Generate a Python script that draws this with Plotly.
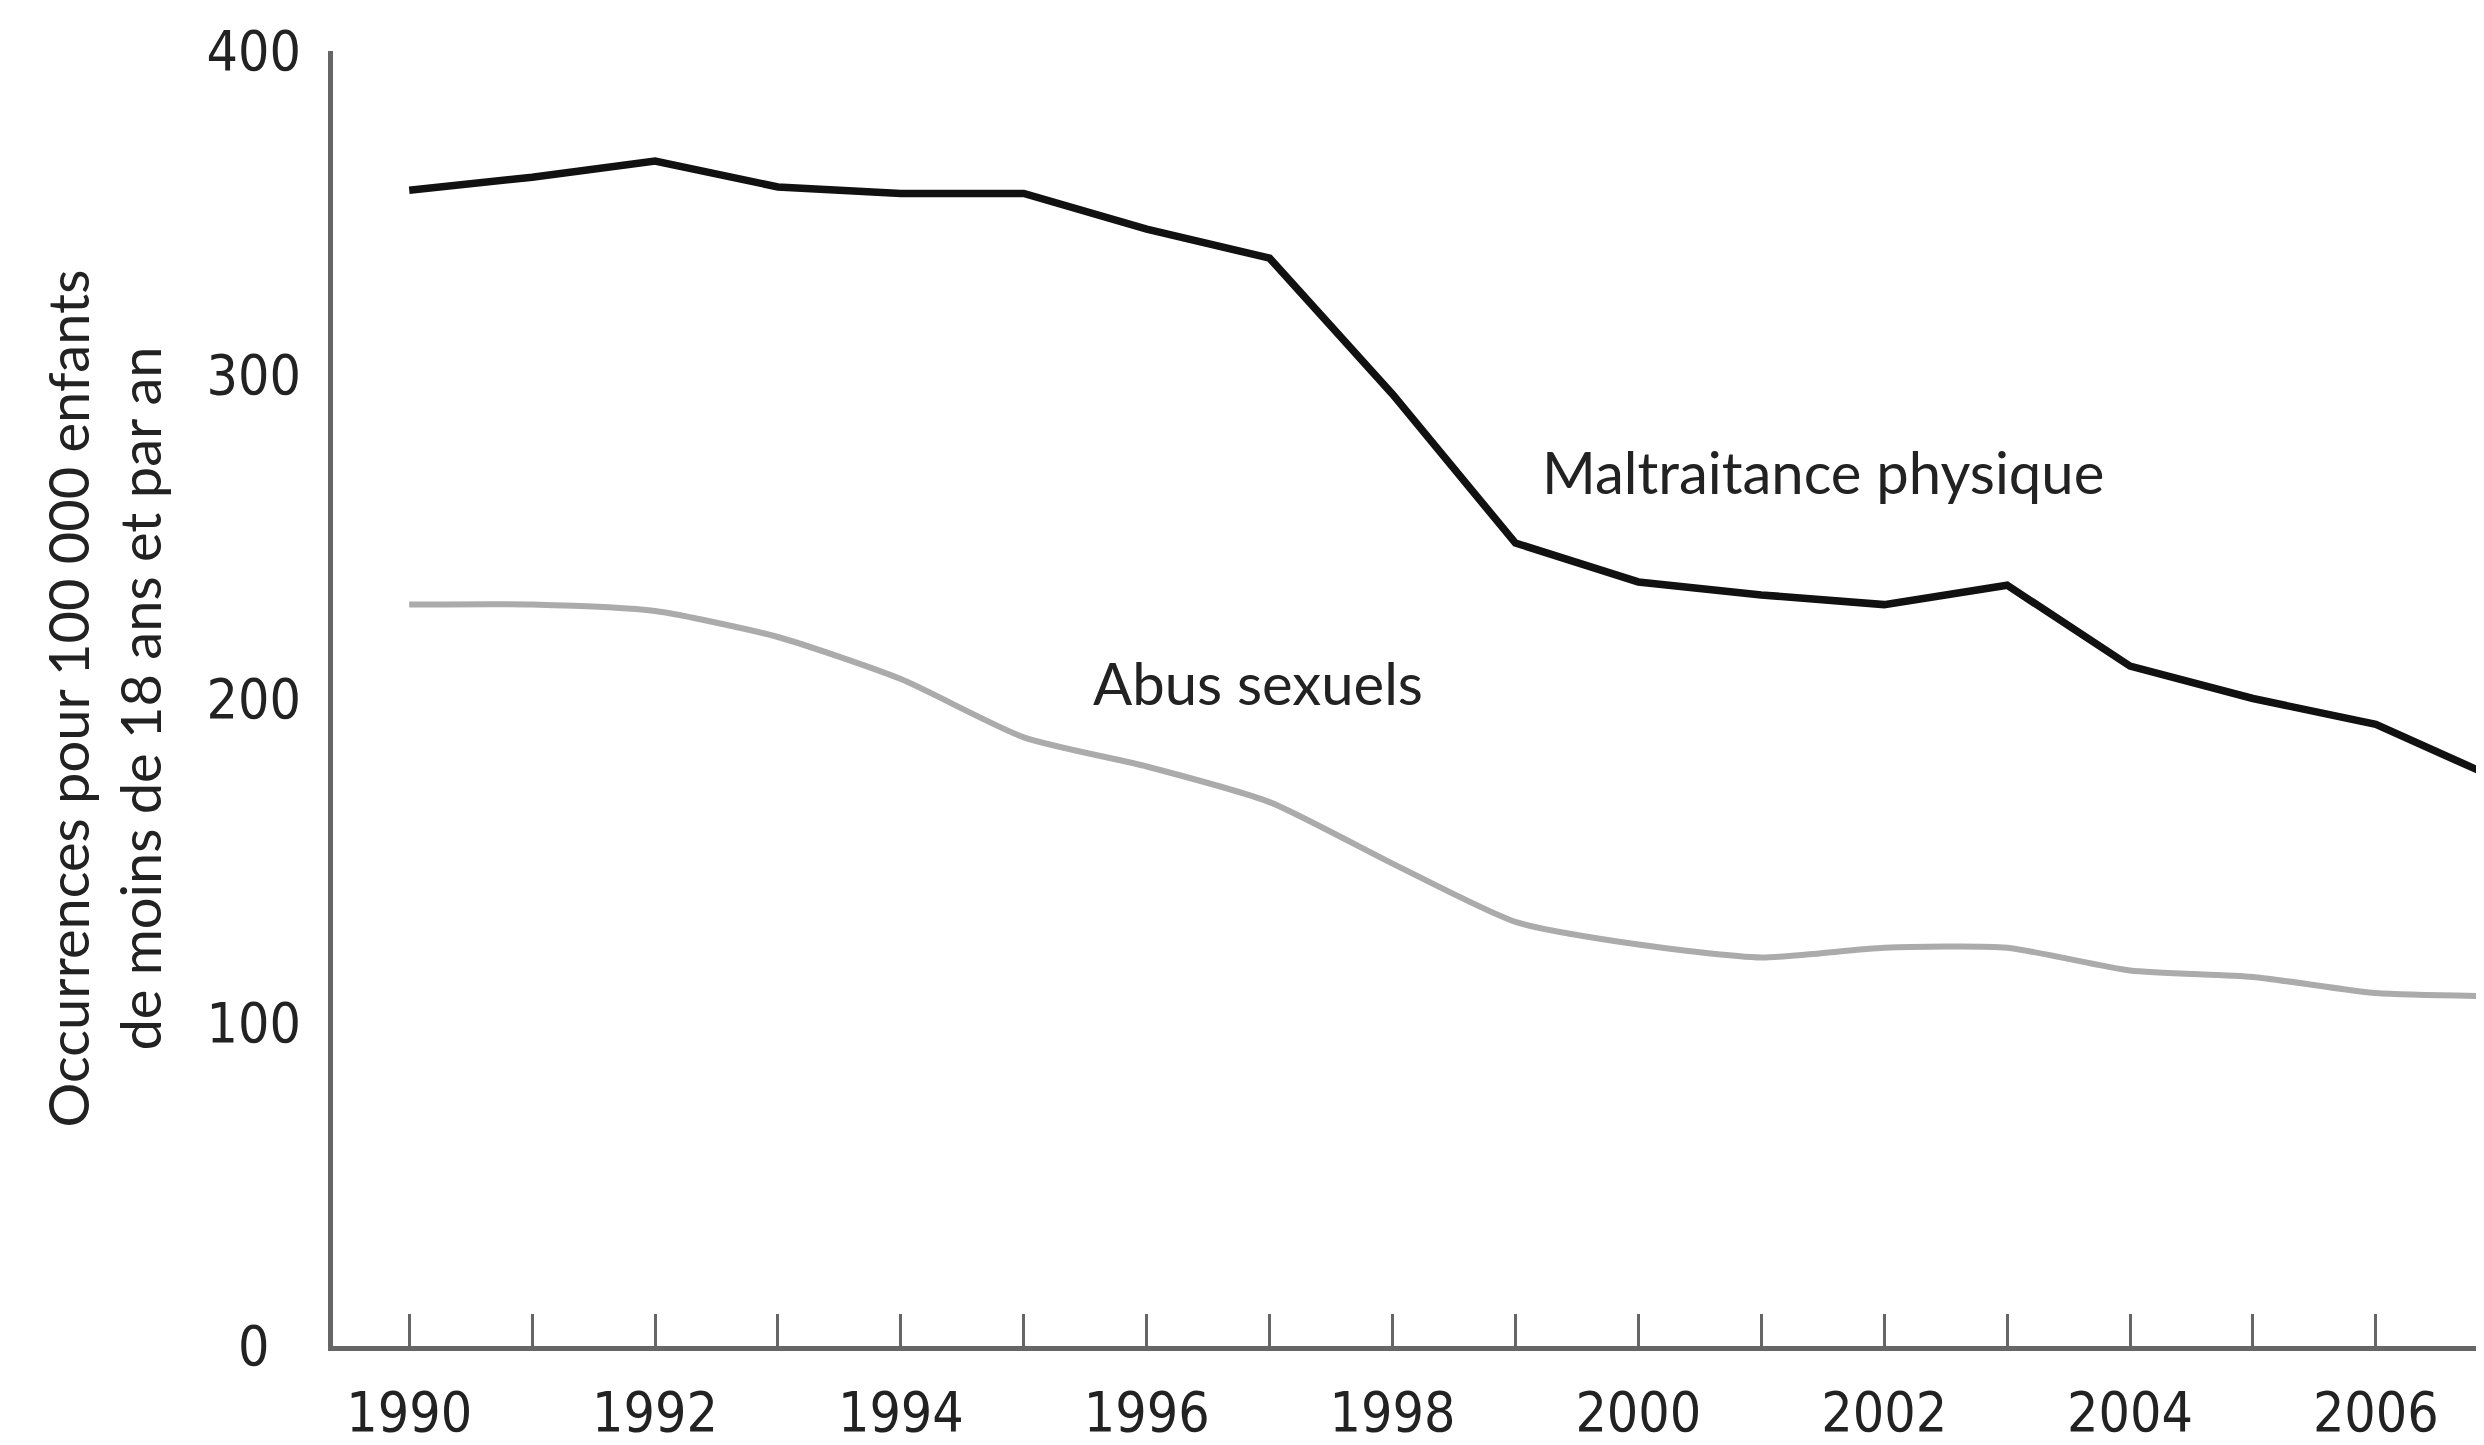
import plotly.graph_objects as go

years = list(range(1990, 2008))
maltraitance = [357, 361, 366, 358, 356, 356, 345, 336, 294, 248, 236, 232, 229, 235, 210, 200, 192, 175]
abus = [229, 229, 227, 219, 206, 188, 179, 168, 149, 131, 124, 120, 123, 123, 116, 114, 109, 108]
xtick_vals = years
xtick_text = [str(y) if y % 2 == 0 else "" for y in years]
ytick_vals = [0, 100, 200, 300, 400]
ytick_text = ["0\u2007", "100", "200", "300", "400"]
labels = [("Maltraitance physique", 1999.2, 270), ("Abus sexuels", 1995.55, 205)]

fig = go.Figure()
fig.add_trace(go.Scatter(x=years, y=abus, mode="lines", line=dict(color="#ababab", width=6, shape="spline", smoothing=0.6), showlegend=False))
fig.add_trace(go.Scatter(x=years, y=maltraitance, mode="lines", line=dict(color="#111111", width=7.5), showlegend=False))

for text, xv, yv in labels:
    fig.add_annotation(x=xv, y=yv, text=text, showarrow=False, xanchor="left", yanchor="middle",
                       font=dict(family="Lato", size=58, color="#222222"))

tick_font = dict(family="Liberation Sans Narrow, DejaVu Sans Condensed", size=55, color="#222222")

fig.update_layout(
    width=2484, height=1445,
    margin=dict(l=325, r=8, t=43, b=107),
    paper_bgcolor="white", plot_bgcolor="white",
    xaxis=dict(range=[1989.38, 2006.88], tickmode="array", tickvals=xtick_vals, ticktext=xtick_text,
               ticks="inside", ticklen=32, tickwidth=3, tickcolor="#666666",
               showline=True, linecolor="#666666", linewidth=5, showgrid=False, zeroline=False,
               tickfont=tick_font, ticklabelstandoff=14, automargin=False),
    yaxis=dict(range=[0, 400], tickmode="array", tickvals=ytick_vals, ticktext=ytick_text, ticks="",
               showline=True, linecolor="#666666", linewidth=5, showgrid=False, zeroline=False,
               tickfont=tick_font, ticklabelstandoff=16, automargin=False,
               title=dict(text="Occurrences pour 100 000 enfants<br>de moins de 18 ans et par an",
                          font=dict(family="Lato", size=56, color="#222222"), standoff=28)),
)

fig.write_html("out.html")
